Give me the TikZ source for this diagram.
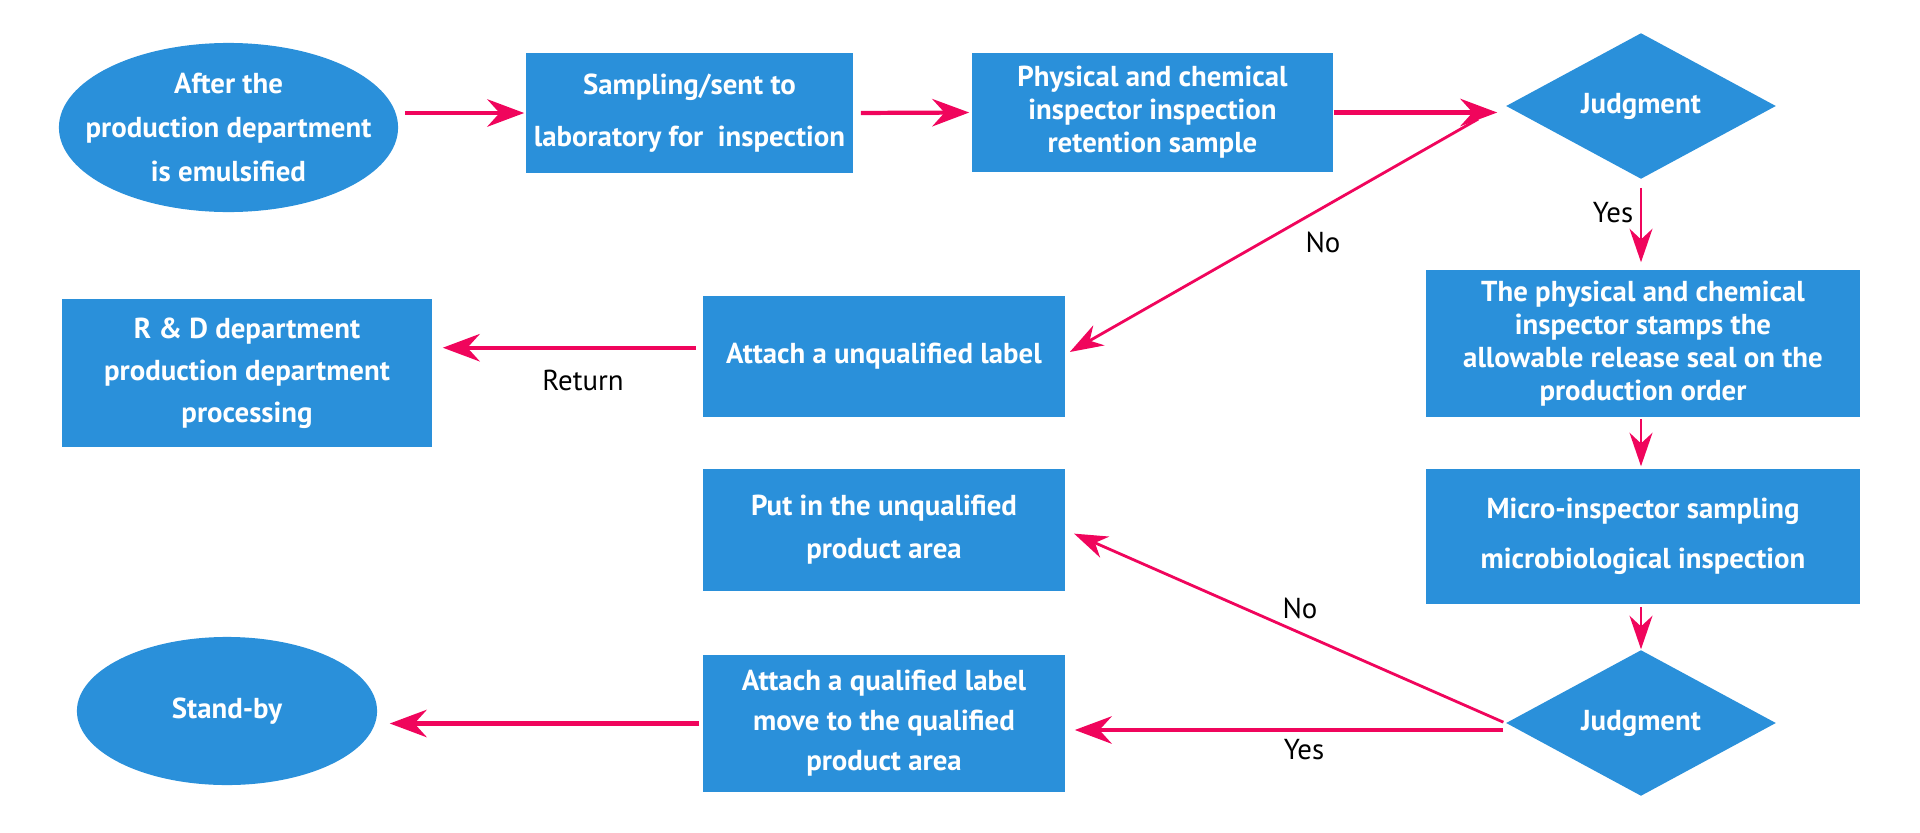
\documentclass[tikz,border=0pt]{standalone}
\usepackage{fontspec}
\setmainfont{PT Sans}
\usetikzlibrary{arrows.meta,shapes.geometric}
\definecolor{boxblue}{HTML}{2A90DA}
\definecolor{arrred}{HTML}{F0055C}
\begin{document}
\begin{tikzpicture}[x=0.01cm,y=-0.01cm,
  blk/.style={fill=boxblue, text=white, align=center, inner sep=0pt, font=\bfseries\fontsize{8.2}{9.4}\selectfont},
  rect/.style={blk, rectangle},
  oval/.style={blk, ellipse},
  dia/.style={blk, diamond},
  lbl/.style={font=\fontsize{8.2}{9.4}\selectfont, text=black, inner sep=0pt},
  bigarr/.style={draw=arrred, line width=1.2pt, -{Stealth[length=10.5pt, width=7.8pt, inset=3.5pt]}},
  thinarr/.style={draw=arrred, line width=0.8pt, -{Stealth[length=9.5pt, width=6.5pt, inset=3pt]}}
]
\useasboundingbox (0,0) rectangle (1920,833);

% nodes
\node[oval, inner xsep=-0.3cm, inner ysep=0pt, minimum width=3.39cm, minimum height=1.69cm, font=\bfseries\fontsize{8.2}{12.4}\selectfont] (ell1) at (228.5,127.5)
  {After the\\production department\\is emulsified};
\node[rect, minimum width=3.27cm, minimum height=1.20cm, font=\bfseries\fontsize{8.2}{14.8}\selectfont] (samp) at (689.5,113)
  {Sampling/sent to\\laboratory for\ \ inspection};
\node[rect, minimum width=3.61cm, minimum height=1.19cm] (phys) at (1152.5,112.5)
  {Physical and chemical\\inspector inspection\\retention sample};
\node[dia, minimum width=2.70cm, minimum height=1.32cm] (d1) at (1641,106) {Judgment};
\node[rect, minimum width=4.34cm, minimum height=1.47cm] (stamp) at (1643,343.5)
  {The physical and chemical\\inspector stamps the\\allowable release seal on the\\production order};
\node[rect, minimum width=4.34cm, minimum height=1.35cm, font=\bfseries\fontsize{8.2}{14.2}\selectfont] (micro) at (1643,536.5)
  {Micro-inspector sampling\\microbiological inspection};
\node[dia, minimum width=2.70cm, minimum height=1.36cm] (d2) at (1641,723) {Judgment};
\node[rect, minimum width=3.70cm, minimum height=1.48cm, font=\bfseries\fontsize{8.2}{12}\selectfont] (rd) at (247,373)
  {R \& D department\\production department\\processing};
\node[rect, minimum width=3.62cm, minimum height=1.21cm] (unq) at (884,356.5)
  {Attach a unqualified label};
\node[rect, minimum width=3.62cm, minimum height=1.22cm, font=\bfseries\fontsize{8.2}{12.2}\selectfont] (putin) at (884,530)
  {Put in the unqualified\\product area};
\node[rect, minimum width=3.62cm, minimum height=1.37cm, font=\bfseries\fontsize{8.2}{11.4}\selectfont] (qual) at (884,723.5)
  {Attach a qualified label\\move to the qualified\\product area};
\node[oval, minimum width=3.00cm, minimum height=1.48cm] (standby) at (227,711) {Stand-by};

% labels
\node[lbl] (lno1) at (1323,242) {No};
\node[lbl] (lyes1) at (1613,213) {Yes};
\node[lbl] (lret) at (583,380) {Return};
\node[lbl] (lno2) at (1300,608) {No};
\node[lbl] (lyes2) at (1304,750) {Yes};

% helper coordinates
\coordinate (n1s) at ([shift={(-27,13)}]d1.west);
\coordinate (n1e) at ([shift={(4,-4.5)}]unq.east);
\coordinate (y2s) at ([shift={(-2,7)}]d2.west);

% connectors
\draw[bigarr, shorten <=0.065cm, shorten >=0.01cm] (samp.west -| ell1.east) -- (samp.west);
\draw[bigarr, shorten <=0.07cm, shorten >=0.02cm] (samp.east) -- (phys.west);
\draw[bigarr, shorten >=0.08cm] (phys.east) -- (phys.east -| d1.west);
\draw[thinarr] (n1s) -- (n1e);
\draw[thinarr, shorten <=0.08cm, shorten >=0.07cm] (d1.south) -- (d1.south |- stamp.north);
\draw[bigarr, shorten <=0.06cm, shorten >=0.1cm] ([yshift=2.5]unq.west) -- ([yshift=2.5]unq.west -| rd.east);
\draw[thinarr, shorten <=0.01cm, shorten >=0.02cm] (stamp.south -| d1.south) -- (micro.north -| d1.south);
\draw[thinarr, shorten <=0.02cm] (micro.south -| d1.south) -- (d2.north);
\draw[thinarr, shorten <=0.02cm, shorten >=0.09cm] (d2.west) -- (putin.east);
\draw[bigarr, shorten >=0.09cm] (y2s) -- (y2s -| qual.east);
\draw[bigarr, shorten <=0.03cm, shorten >=0.12cm] (qual.west) -- (qual.west -| standby.east);
\end{tikzpicture}
\end{document}
